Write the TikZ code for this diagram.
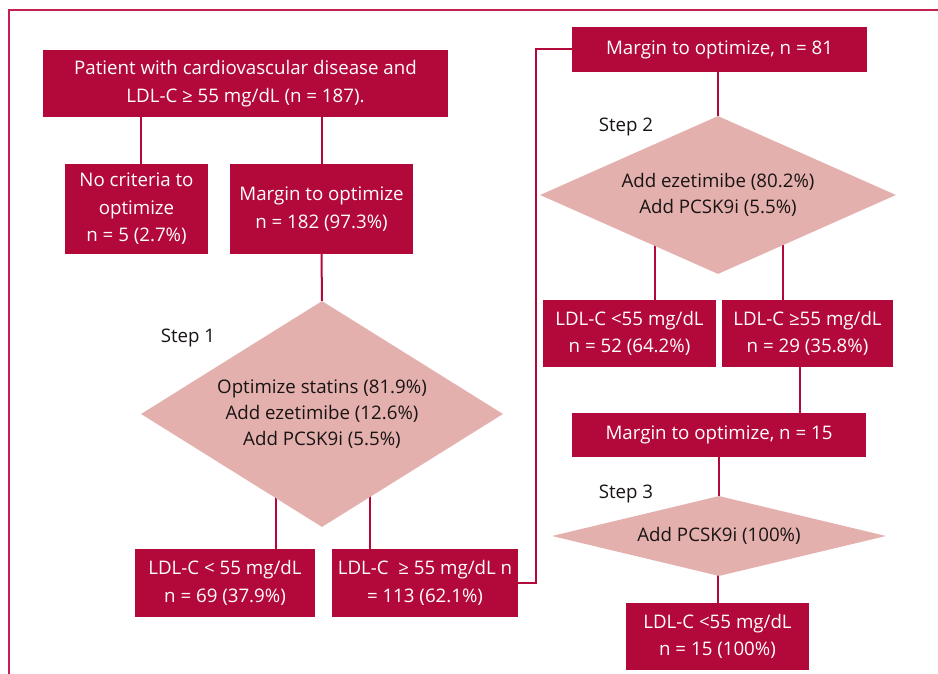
\documentclass[tikz,border=0pt]{standalone}
\usepackage{fontspec}
\setmainfont{Open Sans}
\usetikzlibrary{shapes.geometric,backgrounds}
\definecolor{crim}{RGB}{179,9,58}
\definecolor{rose}{RGB}{228,176,173}
\definecolor{framec}{RGB}{196,32,80}
\definecolor{ink}{RGB}{25,20,20}
\begin{document}
\begin{tikzpicture}[x=1pt,y=-1pt,
  box/.style={rectangle, fill=crim, text=white, inner sep=0pt, align=center,
    font=\fontsize{18.7}{27.5}\selectfont},
  dia/.style={diamond, fill=rose, text=ink, inner sep=0pt, align=center,
    font=\fontsize{18.7}{26}\selectfont},
  lbl/.style={text=ink, inner sep=0pt, font=\fontsize{18.7}{22}\selectfont},
  link/.style={draw=crim, line width=2pt},
  framepath/.style={draw=framec, line width=2.3pt}]
\useasboundingbox (0,0) rectangle (938,674);
\draw[framepath] (9,675) -- (9,10) -- (939,10);

% left column
\node[box, minimum width=405, minimum height=67] (top) at (245.5,83.5)
  {Patient with cardiovascular disease and\\LDL-C ≥ 55 mg/dL (n = 187).};
\node[box, minimum width=143, minimum height=90] (nocrit) at (136.5,209)
  {No criteria to\\optimize\\n = 5 (2.7\%)};
\node[box, minimum width=183, minimum height=90] (m182) at (321.5,209)
  {Margin to optimize\\n = 182 (97.3\%)};
\node[dia, minimum width=362, minimum height=226, aspect=1.6] (d1) at (322,414)
  {Optimize statins (81.9\%)\\Add ezetimibe (12.6\%)\\Add PCSK9i (5.5\%)};
\node[lbl] (s1) at (188,338) {Step 1};
\node[box, minimum width=180, minimum height=68] (lo1) at (225,583)
  {LDL-C < 55 mg/dL\\n = 69 (37.9\%)};
\node[box, minimum width=186, minimum height=68] (hi1) at (425,583)
  {LDL-C \ ≥ 55 mg/dL n\\{}= 113 (62.1\%)};

% right column
\node[box, minimum width=295, minimum height=45] (m81) at (719.5,49.5)
  {Margin to optimize, n = 81};
\node[dia, minimum width=356, minimum height=158, aspect=2.25] (d2) at (718,195)
  {Add ezetimibe (80.2\%)\\Add PCSK9i (5.5\%)};
\node[lbl] (s2) at (626,127) {Step 2};
\node[box, minimum width=173, minimum height=67] (lo2) at (629.5,333.5)
  {LDL-C <55 mg/dL\\n = 52 (64.2\%)};
\node[box, minimum width=171, minimum height=67] (hi2) at (807.5,333.5)
  {LDL-C ≥55 mg/dL\\n = 29 (35.8\%)};
\node[box, minimum width=294, minimum height=44] (m15) at (719,435)
  {Margin to optimize, n = 15};
\node[dia, minimum width=334, minimum height=80, aspect=4.2] (d3) at (719,536)
  {Add PCSK9i (100\%)};
\node[lbl] (s3) at (626,494) {Step 3};
\node[box, minimum width=183, minimum height=67] (lo3) at (717.5,636.5)
  {LDL-C <55 mg/dL\\n = 15 (100\%)};

\begin{scope}[on background layer]
\draw[link] ([xshift=4.5pt]nocrit.north) -- ([xshift=4.5pt]nocrit.north |- top.south);
\draw[link] (m182.north) -- (m182.north |- top.south);
\draw[link] (m182.south) -- (d1.north);
\draw[link] ([xshift=51pt]lo1.north) -- ([xshift=51pt]lo1.north |- d1.center);
\draw[link] ([xshift=-55pt]hi1.north) -- ([xshift=-55pt]hi1.north |- d1.center);
\draw[link] (hi1.east) -- ++(18,0) |- (m81.west);
\draw[link] (d2.north) -- (d2.north |- m81.south);
\draw[link] ([xshift=25.5pt]lo2.north) -- ([xshift=25.5pt]lo2.north |- d2.center);
\draw[link] ([xshift=-24.5pt]hi2.north) -- ([xshift=-24.5pt]hi2.north |- d2.center);
\draw[link] ([xshift=-7.5pt]hi2.south) -- ([xshift=-7.5pt]hi2.south |- m15.north);
\draw[link] (d3.north) -- (d3.north |- m15.south);
\draw[link] (d3.south) -- (d3.south -| lo3.north) -- (lo3.north);
\end{scope}
\end{tikzpicture}
\end{document}
